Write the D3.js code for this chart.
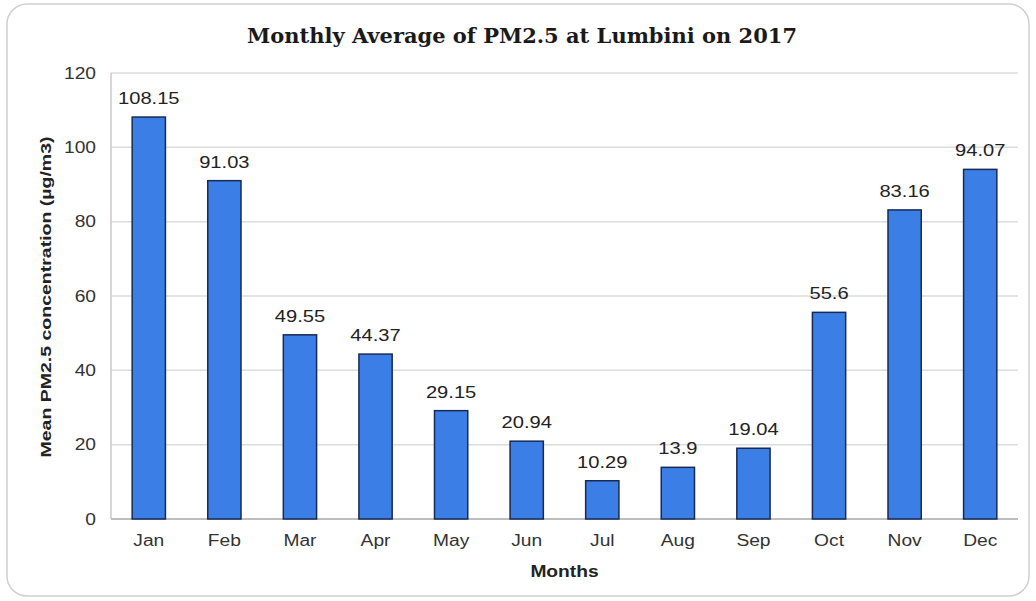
<!DOCTYPE html>
<html>
<head>
<meta charset="utf-8">
<script src="https://cdn.jsdelivr.net/npm/d3@7"></script>
<style>
  body { margin: 0; background: #fff; }
  svg { display: block; }
</style>
</head>
<body>
<svg width="1036" height="601"></svg>
<script>
const months = ["Jan", "Feb", "Mar", "Apr", "May", "Jun", "Jul", "Aug", "Sep", "Oct", "Nov", "Dec"];
const pm25 = [108.15, 91.03, 49.55, 44.37, 29.15, 20.94, 10.29, 13.9, 19.04, 55.6, 83.16, 94.07];
const yTicks = [0, 20, 40, 60, 80, 100, 120];

const sans = "'Liberation Sans', Arial, sans-serif";

// the source picture is a bit wider than tall, so stretch text sideways
function stretch(sel, k) {
  sel.each(function () {
    const len = this.getComputedTextLength();
    d3.select(this).attr("textLength", len * k).attr("lengthAdjust", "spacingAndGlyphs");
  });
}

const svg = d3.select("svg");
const margin = { top: 73, right: 18, bottom: 82, left: 111 };
const width = 1036 - margin.left - margin.right;
const height = 601 - margin.top - margin.bottom;

// outer frame
svg.append("rect")
  .attr("x", 7).attr("y", 4)
  .attr("width", 1022).attr("height", 592)
  .attr("rx", 20).attr("ry", 20)
  .style("fill", "#fff")
  .style("stroke", "#d0d0d0")
  .style("stroke-width", "1.5px");

svg.append("text")
  .attr("x", 522).attr("y", 43)
  .attr("text-anchor", "middle")
  .style("font-family", "'DejaVu Serif', serif")
  .style("font-weight", "bold")
  .style("font-size", "20px")
  .style("fill", "#1a1a1a")
  .text("Monthly Average of PM2.5 at Lumbini on 2017")
  .attr("textLength", 550)
  .attr("lengthAdjust", "spacingAndGlyphs");

const g = svg.append("g").attr("transform", `translate(${margin.left},${margin.top})`);

const x = d3.scaleBand().domain(months).range([0, width]).paddingInner(0.56).paddingOuter(0.28);
const y = d3.scaleLinear().domain([0, 120]).range([height, 0]);

// gridlines
g.selectAll(".grid")
  .data(yTicks)
  .enter()
  .append("line")
  .attr("x1", 0).attr("x2", width)
  .attr("y1", d => y(d)).attr("y2", d => y(d))
  .style("stroke", d => d === 0 ? "#a8a8a8" : "#dcdcdc")
  .style("stroke-width", "1.5px");

g.append("line")
  .attr("x1", 0).attr("x2", 0)
  .attr("y1", 0).attr("y2", height)
  .style("stroke", "#c8c8c8")
  .style("stroke-width", "1.5px");

// y axis labels
const yAxis = g.append("g")
  .call(d3.axisLeft(y).tickValues(yTicks).tickSize(0).tickPadding(15));
yAxis.select(".domain").remove();
yAxis.selectAll("text")
  .style("font-family", sans)
  .style("font-size", "16px")
  .style("fill", "#333")
  .call(stretch, 1.2);

// x axis labels
const xAxis = g.append("g")
  .attr("transform", `translate(0,${height})`)
  .call(d3.axisBottom(x).tickSize(0).tickPadding(16));
xAxis.select(".domain").remove();
xAxis.selectAll("text")
  .style("font-family", sans)
  .style("font-size", "16px")
  .style("fill", "#333")
  .call(stretch, 1.2);

// bars
g.selectAll(".bar")
  .data(pm25)
  .enter()
  .append("rect")
  .attr("x", (d, i) => x(months[i]))
  .attr("y", d => y(d))
  .attr("width", x.bandwidth())
  .attr("height", d => height - y(d))
  .style("fill", "#3b7fe6")
  .style("stroke", "#172a55")
  .style("stroke-width", "1.5px");

// value labels
g.selectAll(".val")
  .data(pm25)
  .enter()
  .append("text")
  .attr("x", (d, i) => x(months[i]) + x.bandwidth() / 2)
  .attr("y", d => y(d) - 13)
  .attr("text-anchor", "middle")
  .style("font-family", sans)
  .style("font-size", "16.5px")
  .style("fill", "#222")
  .text(d => d)
  .call(stretch, 1.22);

// axis titles
svg.append("text")
  .attr("x", margin.left + width / 2).attr("y", 577)
  .attr("text-anchor", "middle")
  .style("font-family", sans)
  .style("font-weight", "bold")
  .style("font-size", "16px")
  .style("fill", "#222")
  .text("Months")
  .call(stretch, 1.2);

svg.append("text")
  .attr("transform", `translate(51,${margin.top + height / 2 + 1}) rotate(-90)`)
  .attr("text-anchor", "middle")
  .style("font-family", sans)
  .style("font-weight", "bold")
  .style("font-size", "15.5px")
  .style("fill", "#222")
  .text("Mean PM2.5 concentration (µg/m3)")
  .attr("textLength", 321)
  .attr("lengthAdjust", "spacingAndGlyphs");
</script>
</body>
</html>
